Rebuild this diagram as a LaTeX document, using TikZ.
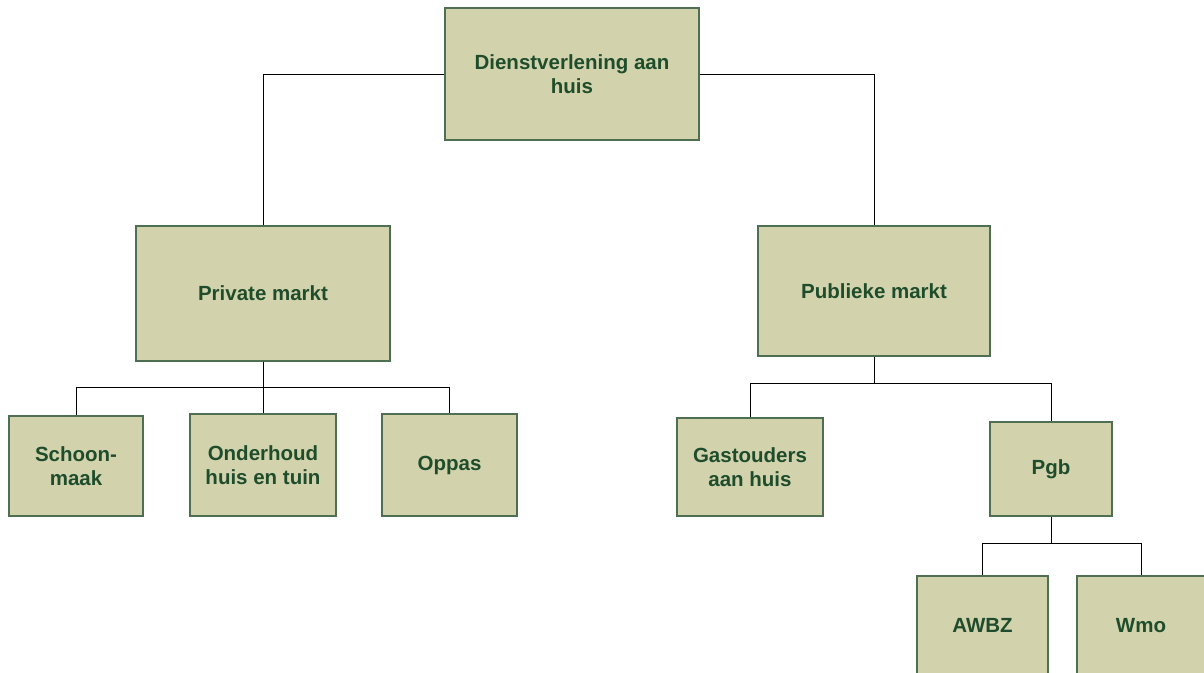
\documentclass[tikz,border=0pt]{standalone}
\usepackage{fontspec}
\setmainfont{Liberation Sans}
\usetikzlibrary{positioning,calc}
\definecolor{boxfill}{HTML}{D2D3AD}
\definecolor{boxline}{HTML}{4F6F52}
\definecolor{boxtext}{HTML}{1F4D2C}
\tikzset{
	orgbox/.style={draw=boxline, fill=boxfill, line width=1.2pt, text=boxtext, align=center, inner sep=0pt,
		font=\fontsize{20.5}{24}\selectfont\bfseries},
	link/.style={draw=black, line width=0.9pt}
}
\begin{document}
\begin{tikzpicture}[x=1pt,y=-1pt]
				\clip (0,0) rectangle (1204,672);
				\fill[white] (0,0) rectangle (1204,672);
				
				%nodes
				\node [orgbox, minimum width=254, minimum height=132] (dienst) at (572,74) {Dienstverlening aan\\huis};
				\node [orgbox, minimum width=254, minimum height=135] (priv) at (263,293.5) {Private markt};
				\node [orgbox, minimum width=232, minimum height=130] (pub) at (874,291) {Publieke markt};
				\node [orgbox, minimum width=134, minimum height=100] (schoon) at (76,466) {Schoon-\\maak};
				\node [orgbox, minimum width=146, minimum height=102] (onder) at (263,465) {Onderhoud\\huis en tuin};
				\node [orgbox, minimum width=135, minimum height=102] (oppas) at (449.5,465) {Oppas};
				\node [orgbox, minimum width=146, minimum height=98] (gast) at (750,467) {Gastouders\\aan huis};
				\node [orgbox, minimum width=122, minimum height=94] (pgb) at (1051,469) {Pgb};
				\node [orgbox, minimum width=131, minimum height=98, text height=15pt, text depth=0pt] (awbz) at (982.5,625) {AWBZ};
				\node [orgbox, minimum width=128, minimum height=98, text height=15pt, text depth=0pt] (wmo) at (1141,625) {Wmo};
				
				%lines
				\draw [link] (dienst.west) -| (priv.north);
				\draw [link] (dienst.east) -| (pub.north);
				\draw [link] (priv.south) -- +(0,26) -| (schoon.north);
				\draw [link] (priv.south) -- +(0,26) -| (oppas.north);
				\draw [link] (priv.south) -- (onder.north);
				\draw [link] (pub.south) -- +(0,27) -| (gast.north);
				\draw [link] (pub.south) -- +(0,27) -| (pgb.north);
				\draw [link] (pgb.south) -- +(0,27) -| (awbz.north);
				\draw [link] (pgb.south) -- +(0,27) -| (wmo.north);
\end{tikzpicture}
\end{document}
